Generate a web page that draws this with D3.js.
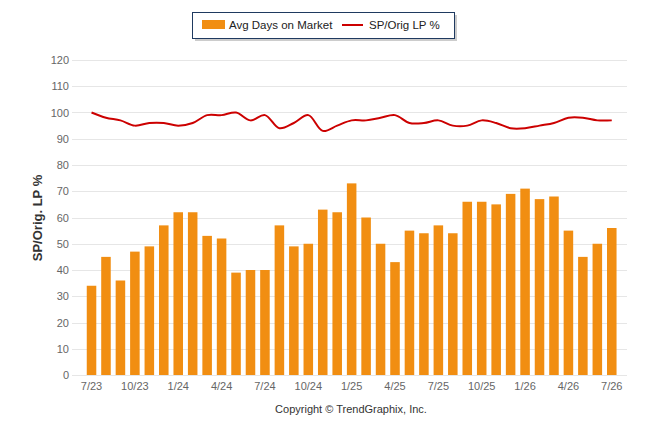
<!DOCTYPE html>
<html>
<head>
<meta charset="utf-8">
<script src="https://cdn.jsdelivr.net/npm/d3@7"></script>
<style>
  body { margin: 0; background: #fff; }
  text { font-family: "Liberation Sans", Arial, sans-serif; }
</style>
</head>
<body>
<div id="chart"></div>
<script>
// months shown on the chart
var months = ["7/23","8/23","9/23","10/23","11/23","12/23","1/24","2/24","3/24","4/24","5/24","6/24",
  "7/24","8/24","9/24","10/24","11/24","12/24","1/25","2/25","3/25","4/25","5/25","6/25",
  "7/25","8/25","9/25","10/25","11/25","12/25","1/26","2/26","3/26","4/26","5/26","6/26","7/26"];

// Avg Days on Market (bars)
var daysOnMarket = [34,45,36,47,49,57,62,62,53,52,39,40,40,57,49,50,63,62,73,60,50,43,55,54,
  57,54,66,66,65,69,71,67,68,55,45,50,56];

// SP/Orig LP % (line)
var spOrigLP = [100,98,97,95,96,96,95,96,99,99,100,97,99,94,96,99,93,95,97,97,98,99,96,96,
  97,95,95,97,96,94,94,95,96,98,98,97,97];

var yTicks = [0,10,20,30,40,50,60,70,80,90,100,110,120];
var xTickLabels = ["7/23","10/23","1/24","4/24","7/24","10/24","1/25","4/25","7/25","10/25","1/26","4/26","7/26"];

var width = 646, height = 434;
var barColor = "#F18E12", lineColor = "#CC0000";

var svg = d3.select("#chart").append("svg")
  .attr("width", width)
  .attr("height", height);

var x = d3.scaleBand()
  .domain(months)
  .range([84.3, 619])
  .paddingInner(0.34)
  .paddingOuter(0.17);

var y = d3.scaleLinear()
  .domain([0, 120])
  .range([375, 60]);

// gridlines
svg.append("g")
  .selectAll("line")
  .data(yTicks)
  .enter().append("line")
  .attr("x1", 72)
  .attr("x2", 627)
  .attr("y1", function(d) { return Math.round(y(d)) + 0.5; })
  .attr("y2", function(d) { return Math.round(y(d)) + 0.5; })
  .attr("stroke", "#e6e6e6")
  .attr("stroke-width", 1);

// y axis labels
var yAxis = d3.axisLeft(y).tickValues(yTicks).tickSize(0).tickPadding(0);
svg.append("g")
  .attr("transform", "translate(69,0)")
  .call(yAxis)
  .call(function(g) { g.select(".domain").remove(); })
  .selectAll("text")
  .attr("fill", "#666")
  .style("font-size", "11px")
  .style("font-family", "'Liberation Sans', Arial, sans-serif");

// x axis labels
var xAxis = d3.axisBottom(x).tickValues(xTickLabels).tickSize(0).tickPadding(7);
svg.append("g")
  .attr("transform", "translate(0,375)")
  .call(xAxis)
  .call(function(g) { g.select(".domain").remove(); })
  .selectAll("text")
  .attr("fill", "#666")
  .style("font-size", "11px")
  .style("font-family", "'Liberation Sans', Arial, sans-serif");

// bars
svg.append("g")
  .selectAll("rect")
  .data(daysOnMarket)
  .enter().append("rect")
  .attr("x", function(d, i) { return x(months[i]); })
  .attr("width", x.bandwidth())
  .attr("y", function(d) { return y(d); })
  .attr("height", function(d) { return y(0) - y(d); })
  .attr("fill", barColor);

// line
var line = d3.line()
  .x(function(d, i) { return x(months[i]) + x.bandwidth() / 2; })
  .y(function(d) { return y(d); })
  .curve(d3.curveCatmullRom.alpha(0.5));

svg.append("path")
  .datum(spOrigLP)
  .attr("d", line)
  .attr("fill", "none")
  .attr("stroke", lineColor)
  .attr("stroke-width", 2);

// y axis title
svg.append("text")
  .attr("transform", "translate(42,218) rotate(-90)")
  .attr("text-anchor", "middle")
  .attr("fill", "#333")
  .style("font-size", "13px")
  .style("font-weight", "bold")
  .text("SP/Orig. LP %");

// legend
var legend = svg.append("g");
legend.append("rect")
  .attr("x", 195).attr("y", 15)
  .attr("width", 262).attr("height", 26)
  .attr("fill", "#999").attr("opacity", 0.5);
legend.append("rect")
  .attr("x", 192.5).attr("y", 12.5)
  .attr("width", 262).attr("height", 26)
  .attr("fill", "#fff")
  .attr("stroke", "#1f3a60")
  .attr("stroke-width", 1);
legend.append("rect")
  .attr("x", 202).attr("y", 20)
  .attr("width", 23).attr("height", 9)
  .attr("fill", barColor);
legend.append("text")
  .attr("x", 229).attr("y", 29)
  .attr("fill", "#222")
  .style("font-size", "11.5px")
  .text("Avg Days on Market");
legend.append("line")
  .attr("x1", 342).attr("x2", 363)
  .attr("y1", 25).attr("y2", 25)
  .attr("stroke", lineColor)
  .attr("stroke-width", 2);
legend.append("text")
  .attr("x", 369).attr("y", 29)
  .attr("fill", "#222")
  .style("font-size", "11.5px")
  .text("SP/Orig LP %");

// copyright
svg.append("text")
  .attr("x", 351).attr("y", 413)
  .attr("text-anchor", "middle")
  .attr("fill", "#333")
  .style("font-size", "11px")
  .text("Copyright \u00A9 TrendGraphix, Inc.");
</script>
</body>
</html>
